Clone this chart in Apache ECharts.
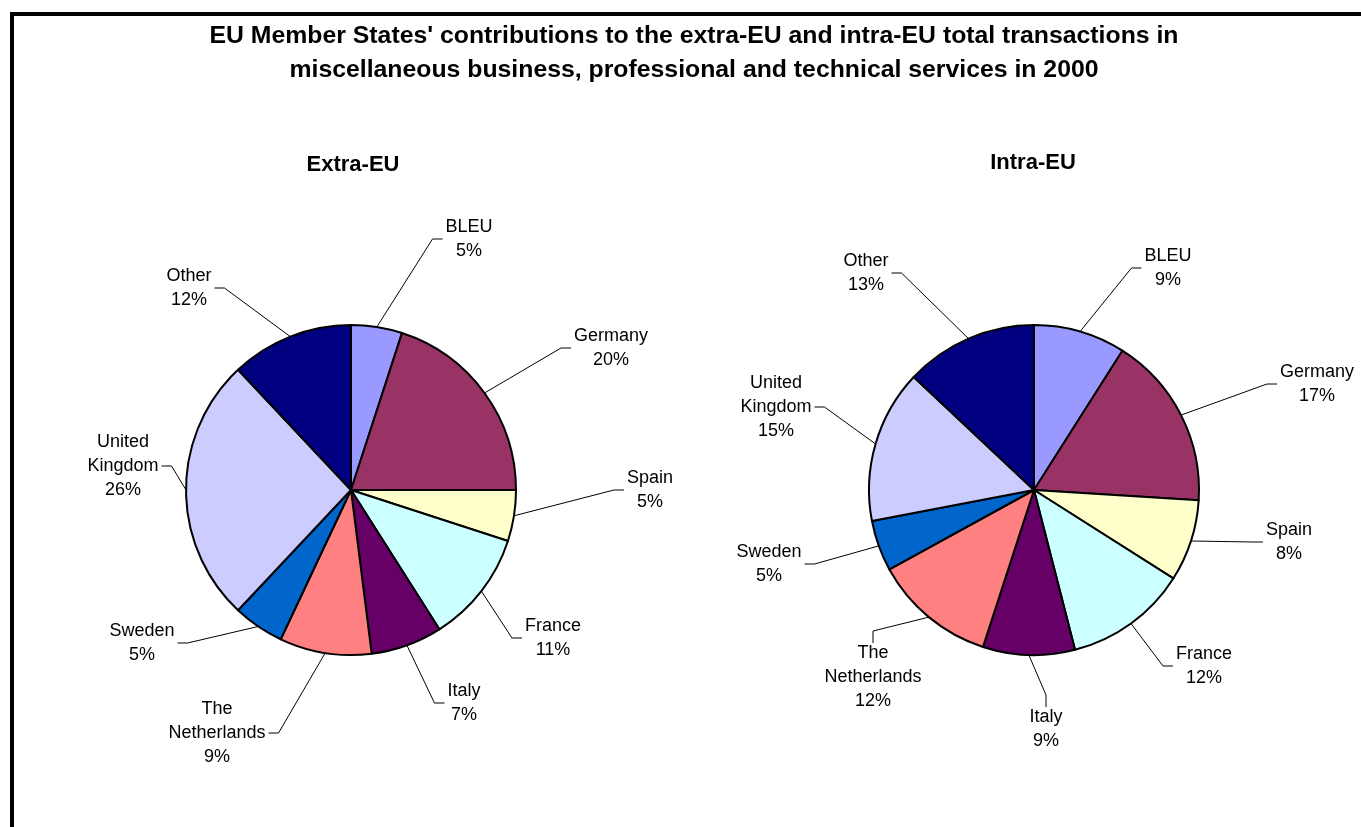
<!DOCTYPE html>
<html>
<head>
<meta charset="utf-8">
<script src="https://cdn.jsdelivr.net/npm/echarts@6/dist/echarts.min.js"></script>
<style>
html,body{margin:0;padding:0;background:#fff;}
#chart{width:1361px;height:827px;}
</style>
</head>
<body>
<div id="chart"></div>
<script>
// ---- data ----
var categories = ['BLEU','Germany','Spain','France','Italy','The Netherlands','Sweden','United Kingdom','Other'];
var extraEU = [5,20,5,11,7,9,5,26,12];
var intraEU = [9,17,8,12,9,12,5,15,13];
var titleText = "EU Member States' contributions to the extra-EU and intra-EU total transactions in\nmiscellaneous business, professional and technical services in 2000";
var pieTitles = ['Extra-EU','Intra-EU'];

// ---- styles / label placement (offset of label block centre from pie centre, attach side) ----
var colors = ['#9999FF','#993366','#FFFFCC','#CCFFFF','#660066','#FF8080','#0066CC','#CCCCFF','#000080'];
var pieCenters = [[351,490],[1034,490]];
var pieRadius = 165;
var labelOffsets = [
  [[118,-251],[260,-142],[299,0],[202,148],[113,213],[-134,243],[-209,153],[-228,-24],[-162,-202]],
  [[134,-222],[283,-106],[255,52],[170,176],[12,239],[-161,187],[-265,74],[-258,-83],[-168,-217]]
];
var labelSides = [
  ['l','l','l','l','l','r','r','r','r'],
  ['l','l','l','l','t','t','r','r','r']
];

var FONT = 'Liberation Sans, Arial, sans-serif';
function toData(vals){
  return categories.map(function(c,i){return {name:c,value:vals[i],itemStyle:{color:colors[i]}};});
}
function pieSeries(vals, idx){
  return {
    type:'pie',
    center:pieCenters[idx],
    radius:pieRadius,
    startAngle:90,
    clockwise:true,
    avoidLabelOverlap:false,
    data:toData(vals),
    itemStyle:{borderColor:'#000',borderWidth:2},
    emphasis:{disabled:true},
    label:{
      show:true,
      position:'outside',
      formatter:function(p){
        var lines = p.name.split(' ');
        lines.push(Math.round(p.percent)+'%');
        return lines.map(function(s){return '{c|'+s+'}';}).join('\n');
      },
      fontFamily:FONT,
      fontSize:18,
      lineHeight:24,
      color:'#000',
      rich:{c:{align:'center',fontFamily:FONT,fontSize:18,lineHeight:24,color:'#000'}}
    },
    labelLine:{show:true,length:20,length2:10,lineStyle:{color:'#000',width:1}},
    labelLayout:function(p){
      var s = p.seriesIndex, i = p.dataIndex;
      var c = pieCenters[s];
      var off = labelOffsets[s][i];
      var x = c[0]+off[0], y = c[1]+off[1];
      var w = p.labelRect.width, h = p.labelRect.height;
      var side = labelSides[s][i];
      var a, b;
      if (side === 'l') { a = [x - w/2 - 3, y]; b = [a[0]-10, y]; }
      else if (side === 'r') { a = [x + w/2 + 3, y]; b = [a[0]+10, y]; }
      else { a = [x, y - h/2 + 2]; b = [x, a[1]-12]; }
      var pts = p.labelLinePoints;
      var edge = pts ? pts[0] : [c[0], c[1]];
      return {x:x, y:y, align:'center', verticalAlign:'middle', hideOverlap:false,
              labelLinePoints:[edge, b, a]};
    }
  };
}
var chart = echarts.init(document.getElementById('chart'));
chart.setOption({
  animation:false,
  backgroundColor:'#fff',
  title:[
    {text:titleText,left:689,top:14,textAlign:'center',textStyle:{fontFamily:FONT,fontSize:24.8,fontWeight:'bold',lineHeight:34,color:'#000'}},
    {text:pieTitles[0],left:348,top:149,textAlign:'center',textStyle:{fontFamily:FONT,fontSize:22,fontWeight:'bold',color:'#000'}},
    {text:pieTitles[1],left:1028,top:147,textAlign:'center',textStyle:{fontFamily:FONT,fontSize:22,fontWeight:'bold',color:'#000'}}
  ],
  graphic:[
    {type:'polyline',shape:{points:[[12,900],[12,14],[1400,14]]},style:{stroke:'#000',lineWidth:4,fill:null}}
  ],
  series:[
    pieSeries(extraEU,0),
    pieSeries(intraEU,1)
  ]
});
</script>
</body>
</html>
